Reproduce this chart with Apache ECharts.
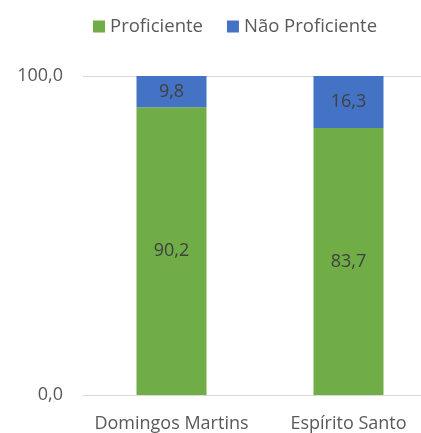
<!DOCTYPE html>
<html>
<head>
<meta charset="utf-8">
<script src="https://cdn.jsdelivr.net/npm/echarts@6/dist/echarts.min.js"></script>
<style>
  html, body { margin: 0; padding: 0; background: #fff; overflow: hidden; }
  /* plot area runs past the right edge in the original, so the canvas is wider than the window */
  #chart { width: 437px; height: 433px; }
</style>
</head>
<body>
<div id="chart"></div>
<script>
const categories = ["Domingos Martins", "Espírito Santo"];
const proficiente = [90.2, 83.7];
const naoProficiente = [9.8, 16.3];
const yTicks = [0, 100];

const chart = echarts.init(document.getElementById("chart"));
const fontFamily = "'Open Sans', 'Noto Sans', sans-serif";
const fmt = v => v.toFixed(1).replace(".", ",");

const labelStyle = {
  show: true,
  position: "inside",
  fontSize: 18,
  color: "#404040",
  fontFamily: fontFamily,
  formatter: p => fmt(p.value)
};

const option = {
  animation: false,
  textStyle: { fontFamily: fontFamily },
  legend: {
    top: 12,
    left: 88,
    itemWidth: 12,
    itemHeight: 12,
    itemGap: 24,
    icon: "rect",
    textStyle: { fontSize: 18.5, color: "#595959", fontFamily: fontFamily },
    data: ["Proficiente", "Não Proficiente"]
  },
  grid: { left: 83, right: 0, top: 76, bottom: 36, containLabel: false },
  xAxis: {
    type: "category",
    data: categories,
    axisTick: { show: false },
    axisLine: { lineStyle: { color: "#d9d9d9", width: 1 } },
    axisLabel: { fontSize: 18, color: "#595959", margin: 20, interval: 0, fontFamily: fontFamily }
  },
  yAxis: {
    type: "value",
    min: yTicks[0],
    max: yTicks[1],
    interval: 100,
    axisLine: { show: false },
    axisTick: { show: false },
    splitLine: { lineStyle: { color: "#d9d9d9", width: 1 } },
    axisLabel: { fontSize: 18, color: "#595959", margin: 20, formatter: fmt, fontFamily: fontFamily }
  },
  series: [
    {
      name: "Proficiente",
      type: "bar",
      stack: "total",
      barWidth: 70,
      data: proficiente,
      itemStyle: { color: "#70AD47" },
      label: labelStyle
    },
    {
      name: "Não Proficiente",
      type: "bar",
      stack: "total",
      barWidth: 70,
      data: naoProficiente,
      itemStyle: { color: "#4472C4" },
      label: labelStyle
    }
  ]
};
chart.setOption(option);
</script>
</body>
</html>
